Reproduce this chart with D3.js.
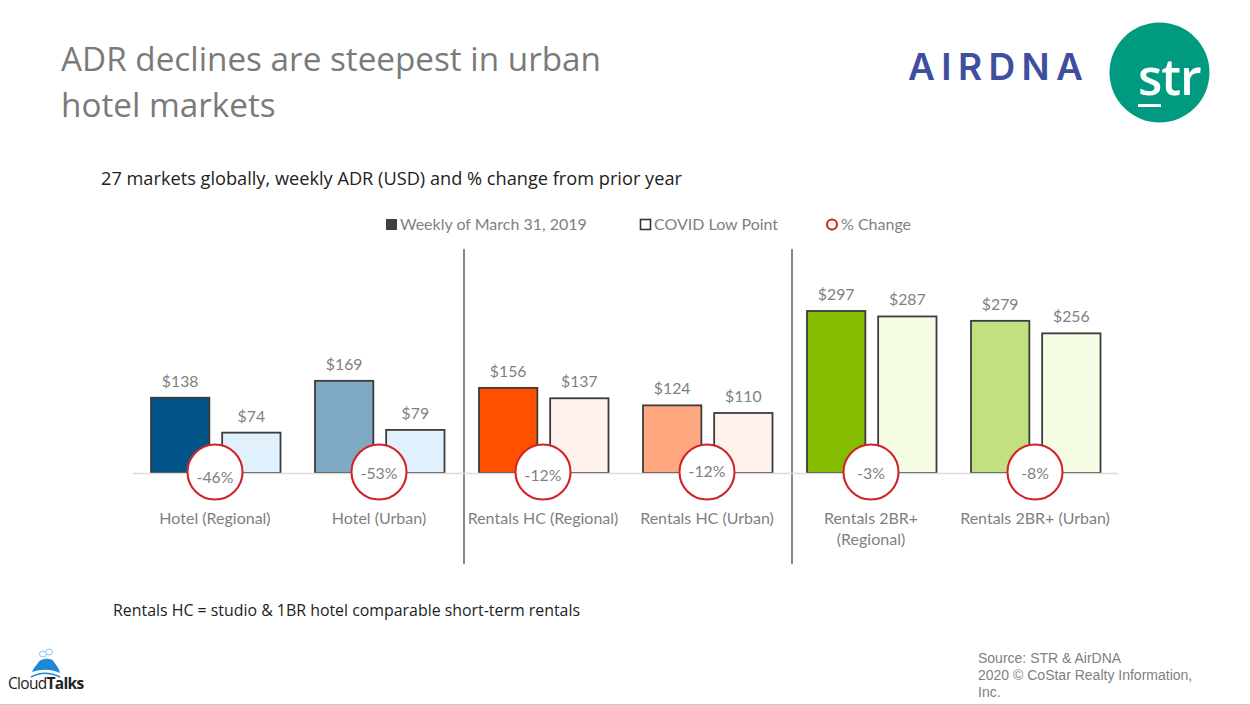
<!DOCTYPE html>
<html><head><meta charset="utf-8">
<script src="https://cdn.jsdelivr.net/npm/d3@7/dist/d3.min.js"></script>
<style>html,body{margin:0;padding:0;background:#fff;overflow:hidden}svg{display:block}</style>
</head><body><svg id="c" width="1250" height="705"></svg>
<script>
const categories = ["Hotel (Regional)","Hotel (Urban)","Rentals HC (Regional)","Rentals HC (Urban)","Rentals 2BR+ (Regional)","Rentals 2BR+ (Urban)"];
const categoryLines = [["Hotel (Regional)"],["Hotel (Urban)"],["Rentals HC (Regional)"],["Rentals HC (Urban)"],["Rentals 2BR+","(Regional)"],["Rentals 2BR+ (Urban)"]];
const seriesNames = ["Weekly of March 31, 2019","COVID Low Point"];
const march2019 = [138,169,156,124,297,279];
const covidLow = [74,79,137,110,287,256];
const pctChange = ["-46%","-53%","-12%","-12%","-3%","-8%"];
const pctLabelNudge = [4,0,2,-2,0,0];
const fillsMarch = ["#03538b","#7fa9c5","#ff5000","#ffa880","#84bd00","#c1e07f"];
const fillsCovid = ["#e0f1fd","#e0f1fd","#fff1ec","#fff1ec","#f5fee5","#f5fee5"];

const svg = d3.select("#c");
const body = "'Open Sans',sans-serif", lab = "Lato,'Open Sans',sans-serif";
const gray = "#7f7f7f";
const x0 = d3.scaleBand().domain(categories).range([133,1117]);
const x1 = d3.scaleBand().domain(seriesNames).range([18,147.5]).paddingInner(0.18).paddingOuter(0);
const y = d3.scaleLinear().domain([0,297]).range([473,311]);

function txt(x,yy,s,size,fill,fam,anchor,extra){
  const t = svg.append("text").attr("x",x).attr("y",yy).text(s)
    .attr("font-size",size).attr("fill",fill).attr("font-family",fam).attr("text-anchor",anchor||"start");
  if(extra) extra(t); return t;
}
txt(61,71,"ADR declines are steepest in urban",33.25,"#7a7a7a",body);
txt(61,117,"hotel markets",33.25,"#7a7a7a",body);
txt(101,185,"27 markets globally, weekly ADR (USD) and % change from prior year",18.2,"#222",body);
txt(113,616,"Rentals HC = studio & 1BR hotel comparable short-term rentals",15.9,"#222",body);

// legend
svg.append("rect").attr("x",386).attr("y",219).attr("width",11).attr("height",11).attr("fill","#404040");
txt(400,230,seriesNames[0],16,gray,lab);
svg.append("rect").attr("x",640.5).attr("y",219.5).attr("width",10).attr("height",10).attr("fill","#fff").attr("stroke","#333").attr("stroke-width",1.6);
txt(654,230,seriesNames[1],16,gray,lab);
svg.append("circle").attr("cx",832).attr("cy",224.5).attr("r",5).attr("fill","#fff").attr("stroke","#d2232a").attr("stroke-width",2.1);
txt(841,230,"% Change",16,gray,lab);

// separators
const seps = [categories[2],categories[4]];
svg.selectAll(".sep").data(seps).join("line").attr("class","sep")
  .attr("x1",d=>x0(d)+3).attr("x2",d=>x0(d)+3).attr("y1",249).attr("y2",564)
  .attr("stroke","#444").attr("stroke-width",1.3);

// bars
const groups = svg.selectAll(".g").data(categories).join("g").attr("class","g")
  .attr("transform",d=>`translate(${x0(d)},0)`);
[[march2019,fillsMarch,seriesNames[0]],[covidLow,fillsCovid,seriesNames[1]]].forEach(([vals,fills,name])=>{
  groups.append("rect").attr("x",x1(name)).attr("width",x1.bandwidth())
    .attr("y",(d,i)=>y(vals[i])).attr("height",(d,i)=>y(0)-y(vals[i]))
    .attr("fill",(d,i)=>fills[i]).attr("stroke","#3c3c3c").attr("stroke-width",1.8);
  groups.append("text").attr("x",x1(name)+x1.bandwidth()/2).attr("y",(d,i)=>y(vals[i])-11)
    .attr("text-anchor","middle").attr("font-family",lab).attr("font-size",15.8).attr("fill",gray)
    .text((d,i)=>"$"+vals[i]);
});
// baseline
svg.append("line").attr("x1",133).attr("x2",1118).attr("y1",473.5).attr("y2",473.5).attr("stroke","#dcdcdc").attr("stroke-width",1.5);

// pct circles, above the baseline
const overlay = svg.selectAll(".p").data(categories).join("g").attr("class","p")
  .attr("transform",d=>`translate(${x0(d)},0)`);
overlay.append("circle").attr("cx",x0.bandwidth()/2).attr("cy",y(0)-1).attr("r",27.5)
  .attr("fill","#fff").attr("stroke","#d2232a").attr("stroke-width",2.1);
overlay.append("text").attr("x",x0.bandwidth()/2).attr("y",(d,i)=>y(0)+6+pctLabelNudge[i])
  .attr("text-anchor","middle").attr("font-family",lab).attr("font-size",15.8).attr("fill",gray)
  .text((d,i)=>pctChange[i]);
// category labels
overlay.each(function(d,i){
  const g = d3.select(this);
  categoryLines[i].forEach((l,k)=>g.append("text").attr("x",x0.bandwidth()/2).attr("y",524+k*20.5)
    .attr("text-anchor","middle").attr("font-family",lab).attr("font-size",16).attr("fill",gray).text(l));
});

// logos
txt(908,80,"AIRDNA",37,"#3f4f9f","Inter,'Open Sans',sans-serif","start",t=>t.attr("font-weight",600).attr("letter-spacing",6.4));
svg.append("circle").attr("cx",1159.5).attr("cy",72.5).attr("r",50).attr("fill","#009a80");
txt(1138,95,"str",50,"#fff",body,"start",t=>t.attr("font-weight",600).attr("letter-spacing",-1));
svg.append("rect").attr("x",1138).attr("y",104).attr("width",23).attr("height",3).attr("fill","#fff");

// CloudTalks
svg.append("path").attr("d","M32 672 C34 667 36 666 38 663 C40 658 52 657 54 662 C56 665 59 668 60 673 C50 669 42 669 32 672 Z").attr("fill","#1e88d2");
svg.append("path").attr("d","M31 677 C40 672 50 672 60 677").attr("fill","none").attr("stroke","#1e88d2").attr("stroke-width",1.5);
svg.append("ellipse").attr("cx",43).attr("cy",654).attr("rx",3.5).attr("ry",3).attr("fill","#fff").attr("stroke","#8ec5ea");
svg.append("ellipse").attr("cx",49).attr("cy",652).attr("rx",3.5).attr("ry",3).attr("fill","#fff").attr("stroke","#8ec5ea");
const ct = txt(8,689,"Cloud",15.5,"#222","'Open Sans',sans-serif");
ct.attr("letter-spacing",-0.7);
ct.append("tspan").attr("font-weight",700).text("Talks");

// source
["Source: STR & AirDNA","2020 © CoStar Realty Information,","Inc."].forEach((s,i)=>txt(978,663+i*17,s,14,"#7f7f7f","'Liberation Sans',sans-serif"));
svg.append("line").attr("x1",0).attr("x2",1250).attr("y1",704.5).attr("y2",704.5).attr("stroke","#c8c8c8");
</script></body></html>
